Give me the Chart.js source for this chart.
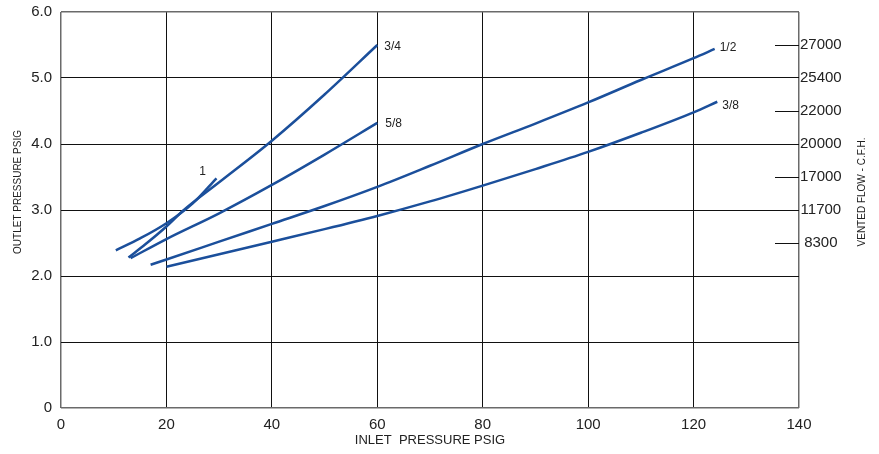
<!DOCTYPE html>
<html>
<head>
<meta charset="utf-8">
<script src="https://cdn.jsdelivr.net/npm/chart.js@4.4.0/dist/chart.umd.min.js"></script>
<style>
  html, body { margin: 0; padding: 0; background: #fff; }
  #wrap { width: 879px; height: 454px; }
</style>
</head>
<body>
<div id="wrap"><canvas id="grafico"></canvas></div>
<script>
'use strict';

/* ── Datos ──────────────────────────────────────────────────────────────── */
const nombres = ['1', '3/4', '5/8', '1/2', '3/8'];

const inlet1   = [10.4, 15, 20, 25, 29.5];
const outlet1  = [2.39, 2.57, 2.8, 3.1, 3.48];

const inlet34  = [12.8, 16, 20, 23.3, 30, 40, 50, 60];
const outlet34 = [2.28, 2.48, 2.75, 3.0, 3.42, 4.05, 4.75, 5.5];

const inlet58  = [13.2, 20, 30, 40, 50, 60];
const outlet58 = [2.27, 2.56, 2.95, 3.38, 3.84, 4.32];

const inlet12  = [17, 20, 30, 40, 50, 60, 70, 80, 90, 100, 110, 120, 124];
const outlet12 = [2.17, 2.25, 2.52, 2.79, 3.06, 3.35, 3.67, 4.0, 4.31, 4.63, 4.97, 5.3, 5.44];

const inlet38  = [20, 30, 40, 50, 60, 70, 80, 90, 100, 110, 120, 124.5];
const outlet38 = [2.14, 2.33, 2.52, 2.71, 2.91, 3.13, 3.37, 3.62, 3.88, 4.17, 4.48, 4.64];

// eje derecho: caudal venteado
const flowAt     = [2.5, 3, 3.5, 4, 4.5, 5, 5.5];
const flowLabels = ['8300', '11700', '17000', '20000', '22000', '25400', '27000'];

const tituloY      = 'OUTLET PRESSURE PSIG';
const tituloCaudal = 'VENTED FLOW - C.F.H.';

/* ── Estilo ─────────────────────────────────────────────────────────────── */
const FONT = "'Liberation Sans', Arial, sans-serif";
const LINE_COLOR = '#1b4f9b';
const TEXT_COLOR = '#222';

function puntos(xs, ys) {
    return xs.map((x, i) => ({ x, y: ys[i] }));
}

const series = [
    [inlet1, outlet1, [-14, -7]],
    [inlet34, outlet34, [7, 2]],
    [inlet58, outlet58, [8, 1]],
    [inlet12, outlet12, [5, -1]],
    [inlet38, outlet38, [5, 4]]
];

// nombre de cada curva junto a su extremo final
const etiquetasCurvas = {
    id: 'etiquetasCurvas',
    afterDatasetsDraw(chart) {
        const ctx = chart.ctx;
        ctx.save();
        ctx.font = `12px ${FONT}`;
        ctx.fillStyle = TEXT_COLOR;
        ctx.textBaseline = 'middle';
        chart.data.datasets.forEach((ds, i) => {
            const pts = chart.getDatasetMeta(i).data;
            const fin = pts[pts.length - 1];
            const [dx, dy] = ds.labelOffset;
            ctx.textAlign = dx < 0 ? 'center' : 'left';
            ctx.fillText(ds.label, fin.x + dx, fin.y + dy);
        });
        ctx.restore();
    }
};

// marcas cortas del eje de caudal (solo donde no hay línea de rejilla)
const marcasCaudal = {
    id: 'marcasCaudal',
    beforeDatasetsDraw(chart) {
        const ctx = chart.ctx;
        const area = chart.chartArea;
        const esc = chart.scales.caudal;
        ctx.save();
        ctx.strokeStyle = '#111';
        ctx.lineWidth = 1;
        ctx.beginPath();
        flowAt.filter(v => !Number.isInteger(v)).forEach(v => {
            const y = Math.round(esc.getPixelForValue(v)) + 0.5;
            ctx.moveTo(area.right - 24, y);
            ctx.lineTo(area.right, y);
        });
        ctx.stroke();
        ctx.restore();
    }
};

// títulos verticales, algo por encima del centro como en el original
const titulosVerticales = {
    id: 'titulosVerticales',
    afterDraw(chart) {
        const ctx = chart.ctx;
        const area = chart.chartArea;
        const yc = (area.top + area.bottom) / 2 - 18;
        ctx.save();
        ctx.font = `10px ${FONT}`;
        ctx.fillStyle = TEXT_COLOR;
        ctx.textAlign = 'center';
        ctx.textBaseline = 'middle';
        [[tituloY, 18], [tituloCaudal, chart.width - 17]].forEach(([txt, x]) => {
            ctx.save();
            ctx.translate(x, yc);
            ctx.rotate(-Math.PI / 2);
            ctx.fillText(txt, 0, 0);
            ctx.restore();
        });
        ctx.restore();
    }
};

const bordeOGrid = (min, max) => c =>
    (c.tick && (c.tick.value === min || c.tick.value === max)) ? '#6a6a6a' : '#111';
const anchoGrid = (min, max) => c =>
    (c.tick && (c.tick.value === min || c.tick.value === max)) ? 1.5 : 1;

// ancho fijo y sin relleno vertical extra
const fijarAncho = w => s => {
    s.width = w;
    s.paddingTop = 0;
    s.paddingBottom = 0;
};

new Chart(document.getElementById('grafico'), {
    type: 'scatter',
    data: {
        datasets: series.map(([xs, ys, off], i) => ({
            label: nombres[i],
            data: puntos(xs, ys),
            showLine: true,
            borderColor: LINE_COLOR,
            borderWidth: 2.5,
            pointRadius: 0,
            cubicInterpolationMode: 'monotone',
            yAxisID: 'y',
            labelOffset: off
        }))
    },
    options: {
        responsive: true,
        maintainAspectRatio: false,
        animation: false,
        layout: { padding: { top: 12, left: 0, right: 0, bottom: 0 } },
        plugins: {
            legend: { display: false },
            tooltip: { enabled: false }
        },
        scales: {
            x: {
                type: 'linear',
                min: 0,
                max: 140,
                ticks: {
                    stepSize: 20,
                    padding: 8,
                    color: TEXT_COLOR,
                    font: { family: FONT, size: 15 }
                },
                grid: {
                    drawTicks: false,
                    color: bordeOGrid(0, 140),
                    lineWidth: anchoGrid(0, 140)
                },
                border: { display: false },
                title: {
                    display: true,
                    text: 'INLET  PRESSURE PSIG',
                    color: TEXT_COLOR,
                    font: { family: FONT, size: 13 },
                    padding: { top: 0, bottom: 6 }
                },
                afterFit: s => { s.height = 46; }
            },
            y: {
                position: 'left',
                min: 0,
                max: 6,
                ticks: {
                    stepSize: 1,
                    padding: 9,
                    color: TEXT_COLOR,
                    font: { family: FONT, size: 15 },
                    callback: v => v === 0 ? '0' : v.toFixed(1)
                },
                grid: {
                    drawTicks: false,
                    color: bordeOGrid(0, 6),
                    lineWidth: anchoGrid(0, 6)
                },
                border: { display: false },
                afterFit: fijarAncho(61)
            },
            caudal: {
                position: 'right',
                min: 0,
                max: 6,
                afterBuildTicks: s => { s.ticks = flowAt.map(v => ({ value: v })); },
                ticks: {
                    padding: 1,
                    crossAlign: 'center',
                    color: TEXT_COLOR,
                    font: { family: FONT, size: 15 },
                    callback: (v, i) => flowLabels[i]
                },
                grid: { display: false, drawTicks: false },
                border: { display: false },
                afterFit: fijarAncho(80)
            }
        }
    },
    plugins: [marcasCaudal, etiquetasCurvas, titulosVerticales]
});
</script>
</body>
</html>
